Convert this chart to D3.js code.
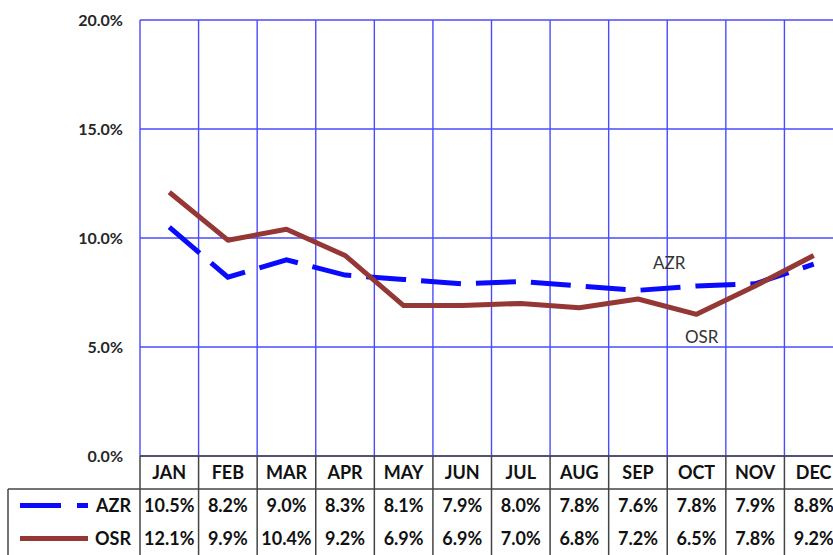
<!DOCTYPE html>
<html>
<head>
<meta charset="utf-8">
<script src="https://cdn.jsdelivr.net/npm/d3@7"></script>
<style>
  body { margin: 0; background: #fff; overflow: hidden; }
  text { font-family: Lato, "Noto Sans", sans-serif; }
</style>
</head>
<body>
<div id="chart"></div>
<script>
// monthly rates
var months = ['JAN','FEB','MAR','APR','MAY','JUN','JUL','AUG','SEP','OCT','NOV','DEC'];
var azr = [10.5, 8.2, 9.0, 8.3, 8.1, 7.9, 8.0, 7.8, 7.6, 7.8, 7.9, 8.8];
var osr = [12.1, 9.9, 10.4, 9.2, 6.9, 6.9, 7.0, 6.8, 7.2, 6.5, 7.8, 9.2];
var yTicks = [0, 5, 10, 15, 20];
var seriesNames = ['AZR', 'OSR'];

var width = 833, height = 555;
var margin = {left: 140, top: 20};
var plotW = 703, plotH = 436;
var rowH = 33;

var svg = d3.select('#chart').append('svg')
  .attr('width', width).attr('height', height);

var x = d3.scaleBand().domain(months).range([margin.left, margin.left + plotW]);
var y = d3.scaleLinear().domain([0, 20]).range([margin.top + plotH, margin.top]);

var grid = svg.append('g').attr('class', 'grid');
var gridColor = '#4a4aff';

// horizontal grid
grid.selectAll('line.h').data(yTicks).enter().append('line')
  .attr('x1', margin.left).attr('x2', margin.left + plotW)
  .attr('y1', function(d){ return y(d); }).attr('y2', function(d){ return y(d); })
  .attr('stroke', gridColor).attr('stroke-width', 1.4);

// vertical grid at category boundaries
var bounds = months.map(function(m){ return x(m); }).concat([margin.left + plotW]);
grid.selectAll('line.v').data(bounds).enter().append('line')
  .attr('x1', function(d){ return d; }).attr('x2', function(d){ return d; })
  .attr('y1', margin.top).attr('y2', y(0))
  .attr('stroke', gridColor).attr('stroke-width', 1.4);

// y labels
svg.append('g').selectAll('text').data(yTicks).enter().append('text')
  .attr('x', 123).attr('y', function(d){ return y(d); })
  .attr('dy', '0.35em').attr('text-anchor', 'end')
  .attr('font-size', 16).attr('font-weight', 'bold').attr('fill', '#262626')
  .text(function(d){ return d.toFixed(1) + '%'; });

// lines
var line = d3.line()
  .x(function(d, i){ return x(months[i]) + x.bandwidth() / 2; })
  .y(function(d){ return y(d); });

svg.append('path').datum(azr)
  .attr('d', line).attr('fill', 'none')
  .attr('stroke', '#0a0aff').attr('stroke-width', 5)
  .attr('stroke-dasharray', '40,15');

svg.append('path').datum(osr)
  .attr('d', line).attr('fill', 'none')
  .attr('stroke', '#953735').attr('stroke-width', 5)
  .attr('stroke-linejoin', 'round');

// series labels in plot
svg.append('text').attr('x', 653).attr('y', 269)
  .attr('font-size', 17).attr('fill', '#333').text('AZR');
svg.append('text').attr('x', 685).attr('y', 343)
  .attr('font-size', 17).attr('fill', '#333').text('OSR');

// data table
var table = svg.append('g').attr('class', 'table');
var tColor = '#444';
var top0 = y(0);

table.append('line')
  .attr('x1', margin.left).attr('x2', width)
  .attr('y1', top0).attr('y2', top0)
  .attr('stroke', tColor).attr('stroke-width', 1.5);
table.append('line')
  .attr('x1', 8).attr('x2', width)
  .attr('y1', top0 + rowH).attr('y2', top0 + rowH)
  .attr('stroke', tColor).attr('stroke-width', 1.5);
table.append('line')
  .attr('x1', 8).attr('x2', 8)
  .attr('y1', top0 + rowH).attr('y2', height)
  .attr('stroke', tColor).attr('stroke-width', 1.5);
table.selectAll('line.v').data(bounds).enter().append('line')
  .attr('x1', function(d){ return d; }).attr('x2', function(d){ return d; })
  .attr('y1', top0).attr('y2', height)
  .attr('stroke', tColor).attr('stroke-width', 1.5);

table.selectAll('text.m').data(months).enter().append('text')
  .attr('x', function(d){ return x(d) + x.bandwidth() / 2; })
  .attr('y', top0 + rowH / 2).attr('dy', '0.35em')
  .attr('text-anchor', 'middle').attr('font-size', 18).attr('font-weight', 'bold')
  .attr('fill', '#111').text(function(d){ return d; });

[azr, osr].forEach(function(vals, r){
  var cy = top0 + rowH * (r + 1) + rowH / 2;
  table.selectAll('text.r' + r).data(vals).enter().append('text')
    .attr('x', function(d, i){ return x(months[i]) + x.bandwidth() / 2; })
    .attr('y', cy).attr('dy', '0.35em')
    .attr('text-anchor', 'middle').attr('font-size', 18).attr('font-weight', 'bold')
    .attr('fill', '#111').text(function(d){ return d.toFixed(1) + '%'; });
  table.append('text').attr('x', 131).attr('y', cy).attr('dy', '0.35em')
    .attr('text-anchor', 'end').attr('font-size', 18).attr('font-weight', 'bold')
    .attr('fill', '#111').text(seriesNames[r]);
});

// legend keys
var k1 = top0 + rowH * 1.5, k2 = top0 + rowH * 2.5;
table.append('line').attr('x1', 20).attr('x2', 88).attr('y1', k1).attr('y2', k1)
  .attr('stroke', '#0a0aff').attr('stroke-width', 5).attr('stroke-dasharray', '41,16');
table.append('line').attr('x1', 20).attr('x2', 88).attr('y1', k2).attr('y2', k2)
  .attr('stroke', '#953735').attr('stroke-width', 5);
</script>
</body>
</html>
